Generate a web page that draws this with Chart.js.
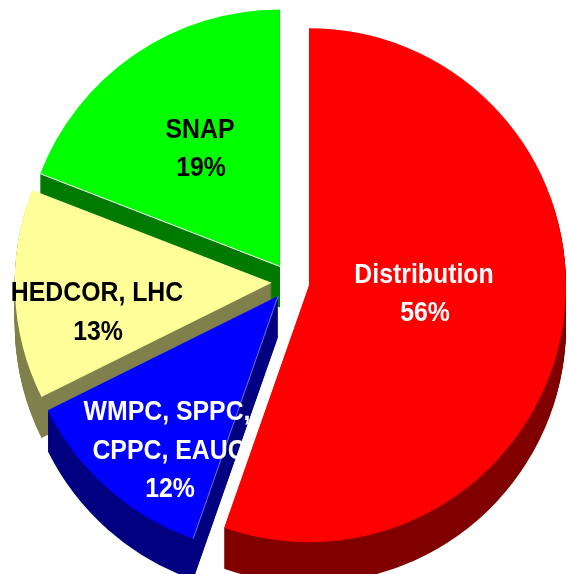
<!DOCTYPE html>
<html>
<head>
<meta charset="utf-8">
<style>html,body{margin:0;padding:0;background:#fff}canvas{display:block}</style>
<script src="https://cdn.jsdelivr.net/npm/chart.js@4"></script>
</head>
<body>
<canvas id="c" width="568" height="574"></canvas>
<script>
const categories = ['Distribution', 'WMPC, SPPC, CPPC, EAUC', 'HEDCOR, LHC', 'SNAP'];
const shares = [55.3, 12.3, 13.2, 19.1];
const topColors = ['#FF0000', '#0000FF', '#FFFF99', '#00FF00'];
const sideColors = ['#800000', '#000080', '#80804D', '#007A00'];
const edgeColors = [null, '#7070E0', null, '#FFFFFF'];
const drawOrder = [3, 2, 1, 0];
const DEPTH = 41;
const EXPLODE = 18.8;
const textItems = [
  ['Distribution', 424, 275.5, '#fff'], ['56%', 425, 313.5, '#fff'],
  ['WMPC, SPPC,', 167, 412.5, '#fff'], ['CPPC, EAUC', 169, 451.5, '#fff'], ['12%', 170, 489.5, '#fff'],
  ['HEDCOR, LHC', 97, 293.5, '#000'], ['13%', 98, 332.5, '#000'],
  ['SNAP', 200, 130.5, '#000'], ['19%', 201, 168.5, '#000']
];
const extrude = {
  id: 'extrude',
  afterDatasetsUpdate(chart) {
    chart.getDatasetMeta(0).data.forEach(el => {
      const mid = (el.startAngle + el.endAngle) / 2;
      el.x += Math.cos(mid) * EXPLODE;
      el.y += Math.sin(mid) * EXPLODE;
    });
  },
  beforeDatasetsDraw(chart) {
    const arcs = chart.getDatasetMeta(0).data, ctx = chart.ctx;
    drawOrder.forEach(i => {
      const el = arcs[i], orig = el.options;
      const o = Object.create(orig);
      o.backgroundColor = sideColors[i];
      el.options = o;
      for (let d = DEPTH; d >= 1; d--) {
        ctx.save(); ctx.translate(0, d); el.draw(ctx); ctx.restore();
      }
      el.options = orig;
    });
  },
  afterDatasetsDraw(chart) {
    const ctx = chart.ctx;
    chart.getDatasetMeta(0).data.forEach((el, i) => {
      if (!edgeColors[i]) return;
      ctx.save();
      ctx.strokeStyle = edgeColors[i];
      ctx.lineWidth = 1;
      ctx.beginPath();
      ctx.moveTo(el.x, el.y);
      ctx.lineTo(el.x + Math.cos(el.startAngle) * el.outerRadius, el.y + Math.sin(el.startAngle) * el.outerRadius);
      ctx.stroke();
      ctx.restore();
    });
  },
  afterDraw(chart) {
    const ctx = chart.ctx;
    ctx.save();
    ctx.font = 'bold 27px "Liberation Sans", Arial, sans-serif';
    ctx.textAlign = 'center'; ctx.textBaseline = 'middle';
    textItems.forEach(([t, x, y, col]) => {
      ctx.save();
      ctx.translate(x, y);
      ctx.scale(0.92, 1);
      ctx.fillStyle = col;
      ctx.fillText(t, 0, 0);
      ctx.restore();
    });
    ctx.restore();
  }
};
new Chart(document.getElementById('c'), {
  type: 'pie',
  data: { labels: categories, datasets: [{
    data: shares, backgroundColor: topColors, borderWidth: 0, clip: false
  }]},
  options: {
    responsive: false, animation: false, radius: 257,
    layout: { padding: { left: 13, right: 0, top: 0, bottom: 10 } },
    plugins: { legend: { display: false }, tooltip: { enabled: false }, title: { display: false } }
  },
  plugins: [extrude]
});
</script>
</body>
</html>
